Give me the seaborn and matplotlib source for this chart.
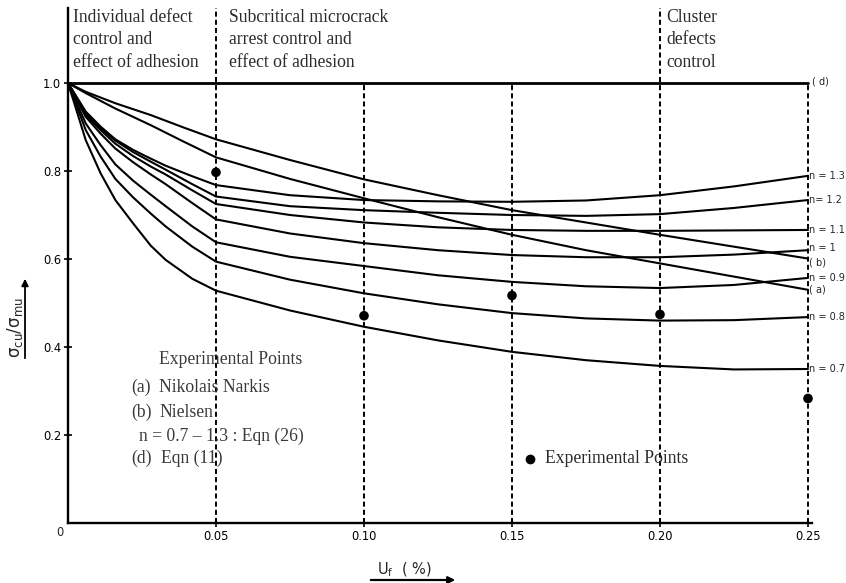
import numpy as np
import pandas as pd
import matplotlib
matplotlib.use("Agg")
import matplotlib.pyplot as plt
import seaborn as sns

# ---------------- data ----------------
X_N = [0.0, 0.006, 0.011, 0.016, 0.022, 0.028, 0.033, 0.042, 0.05,
       0.075, 0.10, 0.125, 0.15, 0.175, 0.20, 0.225, 0.25]
N_07 = [1.0, 0.870, 0.795, 0.734, 0.681, 0.630, 0.598, 0.555, 0.528,
        0.483, 0.446, 0.415, 0.389, 0.370, 0.357, 0.349, 0.350]
N_08 = [1.0, 0.893, 0.833, 0.782, 0.740, 0.703, 0.674, 0.628, 0.594,
        0.553, 0.522, 0.497, 0.477, 0.465, 0.460, 0.461, 0.468]
N_09 = [1.0, 0.908, 0.859, 0.815, 0.778, 0.746, 0.720, 0.674, 0.638,
        0.605, 0.584, 0.563, 0.548, 0.538, 0.534, 0.541, 0.557]
N_10 = [1.0, 0.923, 0.885, 0.851, 0.820, 0.792, 0.770, 0.727, 0.690,
        0.658, 0.636, 0.620, 0.609, 0.604, 0.604, 0.610, 0.620]
N_11 = [1.0, 0.927, 0.893, 0.862, 0.834, 0.810, 0.792, 0.756, 0.725,
        0.700, 0.683, 0.672, 0.666, 0.664, 0.664, 0.665, 0.666]
N_12 = [1.0, 0.931, 0.897, 0.869, 0.843, 0.821, 0.803, 0.770, 0.742,
        0.720, 0.711, 0.705, 0.700, 0.698, 0.702, 0.716, 0.734]
N_13 = [1.0, 0.935, 0.901, 0.872, 0.848, 0.828, 0.812, 0.788, 0.768,
        0.745, 0.734, 0.731, 0.730, 0.733, 0.745, 0.765, 0.789]

X_AB = [0.0, 0.006, 0.016, 0.028, 0.039, 0.05, 0.075, 0.10, 0.125,
        0.15, 0.175, 0.20, 0.225, 0.25]
CURVE_A = [1.0, 0.977, 0.942, 0.904, 0.867, 0.831, 0.782, 0.738, 0.695,
           0.655, 0.620, 0.590, 0.560, 0.530]
CURVE_B = [1.0, 0.980, 0.954, 0.927, 0.899, 0.872, 0.825, 0.781, 0.745,
           0.711, 0.683, 0.655, 0.628, 0.601]

X_D = [0.0, 0.25]
CURVE_D = [1.0, 1.0]

EXP_X = [0.05, 0.10, 0.15, 0.20, 0.25]
EXP_Y = [0.797, 0.471, 0.517, 0.474, 0.283]

N_NAMES = ["n = 0.7", "n = 0.8", "n = 0.9", "n = 1", "n = 1.1", "n= 1.2", "n = 1.3"]
N_SERIES = [N_07, N_08, N_09, N_10, N_11, N_12, N_13]

XTICKS = [0.05, 0.10, 0.15, 0.20, 0.25]
XTICK_LABELS = ["0.05", "0.10", "0.15", "0.20", "0.25"]
YTICKS = [0.2, 0.4, 0.6, 0.8, 1.0]
YTICK_LABELS = ["0.2", "0.4", "0.6", "0.8", "1.0"]

TALL_BOUNDS = [0.05, 0.20]        # dashed lines reaching the top
SHORT_BOUNDS = [0.10, 0.15, 0.25]  # dashed lines up to 1.0

REGION_TEXT = [
    (73, ["Individual defect", "control and", "effect of adhesion"]),
    (229, ["Subcritical microcrack", "arrest control and", "effect of adhesion"]),
    (666, ["Cluster", "defects", "control"]),
]

# ---------------- build long-form table ----------------
rows = []
for name, vals in zip(N_NAMES, N_SERIES):
    for x, v in zip(X_N, vals):
        rows.append({"curve": name, "x": x, "v": v})
for name, vals in [("( a)", CURVE_A), ("( b)", CURVE_B)]:
    for x, v in zip(X_AB, vals):
        rows.append({"curve": name, "x": x, "v": v})
df = pd.DataFrame(rows)

# ---------------- figure ----------------
sns.set_style("white")
plt.rcParams["font.family"] = ["DejaVu Sans"]
plt.rcParams["mathtext.default"] = "regular"

W, H = 846, 583
fig = plt.figure(figsize=(W / 100, H / 100), dpi=100)


def fx(px):
    return px / W


def fy(py):
    return 1 - py / H


ax = fig.add_axes([fx(68), 60 / H, 744 / W, 515 / H])
ax.set_xlim(0, 744 / 2960)
ax.set_ylim(0, 515 / 440)

# region boundaries
dash = (0, (2.6, 1.6))
for xb in TALL_BOUNDS:
    ax.axvline(xb, ymin=0, ymax=1, color="black", lw=1.4, linestyle=dash, zorder=1)
for xb in SHORT_BOUNDS:
    ax.vlines(xb, 0, 1.0, color="black", lw=1.4, linestyles=[dash], zorder=1)

# curves
sns.lineplot(data=df, x="x", y="v", units="curve", estimator=None,
             color="black", lw=1.5, sort=False, ax=ax, legend=False, zorder=3)
sns.lineplot(x=X_D, y=CURVE_D, color="black", lw=2.0, ax=ax, zorder=3)

# experimental points
sns.scatterplot(x=EXP_X, y=EXP_Y, color="black", s=48, edgecolor="none",
                ax=ax, zorder=5, clip_on=False)

# axes styling
for side in ["top", "right"]:
    ax.spines[side].set_visible(False)
for side in ["left", "bottom"]:
    ax.spines[side].set_linewidth(1.7)
    ax.spines[side].set_color("black")
ax.set_xticks(XTICKS)
ax.set_xticklabels(XTICK_LABELS)
ax.set_yticks(YTICKS)
ax.set_yticklabels(YTICK_LABELS)
ax.tick_params(axis="both", direction="inout", length=6, width=1.2,
               labelsize=8.3, pad=2, colors="black", bottom=True, left=True)
ax.set_xlabel("")
ax.set_ylabel("")
ax.grid(False)
fig.text(fx(60), fy(533), "0", ha="center", va="center", fontsize=8.3)

# right-end labels
label_offsets = {"n = 1": 0.006, "( b)": -0.010}
for name, vals in zip(N_NAMES, N_SERIES):
    ax.text(0.2503, vals[-1] + label_offsets.get(name, 0.0), name,
            ha="left", va="center", fontsize=7, clip_on=False)
ax.text(0.2503, CURVE_B[-1] + label_offsets["( b)"], "( b)", ha="left",
        va="center", fontsize=7, clip_on=False)
ax.text(0.2503, CURVE_A[-1], "( a)", ha="left", va="center", fontsize=7,
        clip_on=False)
ax.text(0.2515, CURVE_D[-1] + 0.003, "( d)", ha="left", va="center",
        fontsize=7, clip_on=False)

# serif annotations
SERIF = ["Liberation Serif", "DejaVu Serif"]
TXT_COL = "#2a2a2a"
fs = 12.7
for px, lines in REGION_TEXT:
    for i, line in enumerate(lines):
        fig.text(fx(px), fy(21.7 + 22.5 * i), line, family=SERIF, fontsize=fs,
                 color=TXT_COL, ha="left", va="baseline")

legend_lines = [
    (159, 364.3, "Experimental Points"),
    (131, 392.3, "(a)"), (159, 392.3, "Nikolais Narkis"),
    (131, 416.7, "(b)"), (159, 416.7, "Nielsen"),
    (139, 441.0, "n = 0.7 – 1.3 : Eqn (26)"),
    (131, 463.3, "(d)"), (161, 463.3, "Eqn (11)"),
]
for px, py, s in legend_lines:
    fig.text(fx(px), fy(py), s, family=SERIF, fontsize=fs, color="#3a3a3a",
             ha="left", va="baseline")

fig.text(fx(545), fy(463), "Experimental Points", family=SERIF, fontsize=fs,
         color=TXT_COL, ha="left", va="baseline")
fig.add_artist(plt.Line2D([fx(530)], [fy(459)], marker="o", markersize=6,
                          color="black", transform=fig.transFigure))

# axis titles with arrows
fig.text(fx(15), fy(328), r"$\sigma_{cu}/\sigma_{mu}$", rotation=90,
         ha="center", va="center", fontsize=12)
fig.add_artist(matplotlib.patches.FancyArrowPatch(
    (fx(25), fy(361)), (fx(25), fy(276)), transform=fig.transFigure,
    arrowstyle="-|>", mutation_scale=10, lw=1.3, color="black"))

fig.text(fx(377), fy(570), r"$U_f$  ( %)", ha="left", va="center", fontsize=10.5)
fig.add_artist(matplotlib.patches.FancyArrowPatch(
    (fx(368), fy(580)), (fx(458), fy(580)), transform=fig.transFigure,
    arrowstyle="-|>", mutation_scale=10, lw=1.6, color="black"))

fig.savefig("out.png", dpi=100)
